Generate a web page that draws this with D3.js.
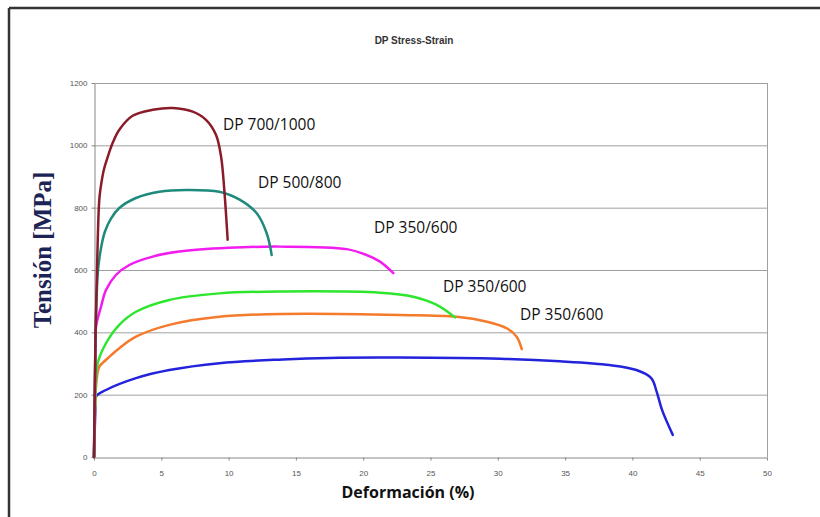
<!DOCTYPE html>
<html>
<head>
<meta charset="utf-8">
<title>DP Stress-Strain</title>
<script src="https://d3js.org/d3.v7.min.js"></script>
<style>
body { margin: 0; background: #fff; }
.axis text { font-family: Arial, "Liberation Sans", sans-serif; font-size: 8px; fill: #555; }
.axis path, .axis line { stroke: #888; }
.grid line { stroke: #a0a0a0; stroke-width: 1px; }
.curve { fill: none; stroke-width: 2.5px; stroke-linejoin: round; stroke-linecap: round; }
.label { font-family: "Open Sans", Arial, sans-serif; font-size: 15.5px; fill: #111; }
</style>
</head>
<body>
<svg width="820" height="517"></svg>
<script>
// strain (%) , stress (MPa)
var dp7001000 = [[0,0],[0.12,400],[0.28,700],[0.4,830],[0.55,880],[0.75,925],[1.0,960],[1.39,1008],[1.88,1050],[2.87,1095],[4.36,1114],[5.85,1120],[7.33,1108],[8.32,1082],[9.06,1034],[9.44,964],[9.68,857],[9.93,697]];
var dp500800 = [[0,0],[0.15,450],[0.3,600],[0.52,670],[0.8,722],[1.26,765],[1.88,799],[3.12,831],[4.85,851],[6.83,857],[9.31,851],[10.85,825],[12.09,782],[12.83,718],[13.2,648]];
var dp350600a = [[0,0],[0.1,300],[0.15,418],[0.52,482],[0.89,536],[1.63,584],[2.62,616],[4.36,643],[6.34,659],[10,671],[13.8,675],[18.77,667],[20.26,648],[21.25,627],[22.24,590]];
var dp350600b = [[0,0],[0.15,250],[0.27,301],[0.89,365],[1.88,424],[3.12,466],[5.59,504],[9.31,525],[14.02,531],[21.25,527],[23.72,514],[25.46,488],[26.82,448]];
var dp350600c = [[0,0],[0.2,250],[0.4,290],[0.9,312],[1.88,349],[3.12,386],[5.59,424],[9.31,450],[14.02,459],[22.7,456],[26.95,450],[29.2,434],[30.66,413],[31.4,386],[31.78,346]];
var dpBase = [[0,0],[0.1,150],[0.15,194],[0.89,215],[3.12,253],[5.59,279],[9.31,301],[14.02,313],[17.5,318],[22.7,319],[30.2,315],[34.6,307],[38.3,295],[40.3,279],[41.4,253],[41.8,210],[42.2,151],[43.0,71]];

// drawing order: the last one sits on top
var seriesData = [dpBase, dp350600c, dp350600b, dp350600a, dp500800, dp7001000];
var seriesColors = ["#2323dc", "#f57a2c", "#2ee62e", "#f21cf0", "#1d8a7c", "#8a1c2a"];

// label text and where it sits (strain %, MPa)
var labelTexts = ["DP 700/1000", "DP 500/800", "DP 350/600", "DP 350/600", "DP 350/600"];
var labelAt = [[9.58,1049],[12.18,863],[20.8,719],[25.93,529],[31.65,440]];

var xTicks = d3.range(0, 51, 5);
var yTicks = d3.range(0, 1201, 200);

var svg = d3.select("svg");

// outer frame (left and top edges show)
svg.append("line").attr("x1", 9).attr("y1", 8).attr("x2", 820).attr("y2", 8)
  .attr("stroke", "#333").attr("stroke-width", 2.5);
svg.append("line").attr("x1", 9).attr("y1", 8).attr("x2", 9).attr("y2", 517)
  .attr("stroke", "#333").attr("stroke-width", 2.5);

var x = d3.scaleLinear().domain([0, 50]).range([94, 767]);
var y = d3.scaleLinear().domain([0, 1200]).range([457, 83]);

// gridlines
svg.append("g").attr("class", "grid")
  .selectAll("line").data(yTicks.slice(1)).enter().append("line")
  .attr("x1", x(0)).attr("x2", x(50))
  .attr("y1", function(d) { return y(d) + 0.5; })
  .attr("y2", function(d) { return y(d) + 0.5; });

// right border of the plot area
svg.append("line").attr("x1", x(50) + 0.5).attr("x2", x(50) + 0.5)
  .attr("y1", y(1200)).attr("y2", y(0)).attr("stroke", "#a0a0a0");

svg.append("g").attr("class", "axis")
  .attr("transform", "translate(" + (x(0) + 0.5) + ",0)")
  .call(d3.axisLeft(y).tickValues(yTicks).tickFormat(d3.format("d"))
    .tickSize(3).tickPadding(4).tickSizeOuter(0));

svg.append("g").attr("class", "axis")
  .attr("transform", "translate(0," + (y(0) + 0.5) + ")")
  .call(d3.axisBottom(x).tickValues(xTicks).tickSize(3).tickPadding(10).tickSizeOuter(0));

var line = d3.line()
  .x(function(d) { return x(d[0]); })
  .y(function(d) { return y(d[1]); })
  .curve(d3.curveCatmullRom.alpha(0.5));

svg.append("g").selectAll("path").data(seriesData).enter().append("path")
  .attr("class", "curve")
  .attr("stroke", function(d, i) { return seriesColors[i]; })
  .attr("d", line);

svg.append("g").selectAll("text").data(labelTexts).enter().append("text")
  .attr("class", "label")
  .attr("x", function(d, i) { return x(labelAt[i][0]); })
  .attr("y", function(d, i) { return y(labelAt[i][1]); })
  .text(function(d) { return d; });

// title
svg.append("text")
  .attr("x", 414).attr("y", 44)
  .attr("text-anchor", "middle")
  .style("font-family", "Arial, 'Liberation Sans', sans-serif")
  .style("font-size", "10px").style("font-weight", "bold").style("fill", "#333")
  .text("DP Stress-Strain");

// axis titles
svg.append("text")
  .attr("transform", "translate(51,250) rotate(-90)")
  .attr("text-anchor", "middle")
  .style("font-family", "'Liberation Serif', 'DejaVu Serif', serif")
  .style("font-size", "25px").style("font-weight", "bold").style("fill", "#1c2456")
  .text("Tensión [MPa]");

svg.append("text")
  .attr("x", 408).attr("y", 498)
  .attr("text-anchor", "middle")
  .style("font-family", "'Open Sans', Arial, sans-serif")
  .style("font-size", "16px").style("font-weight", "bold").style("fill", "#111")
  .text("Deformación (%)");
</script>
</body>
</html>
